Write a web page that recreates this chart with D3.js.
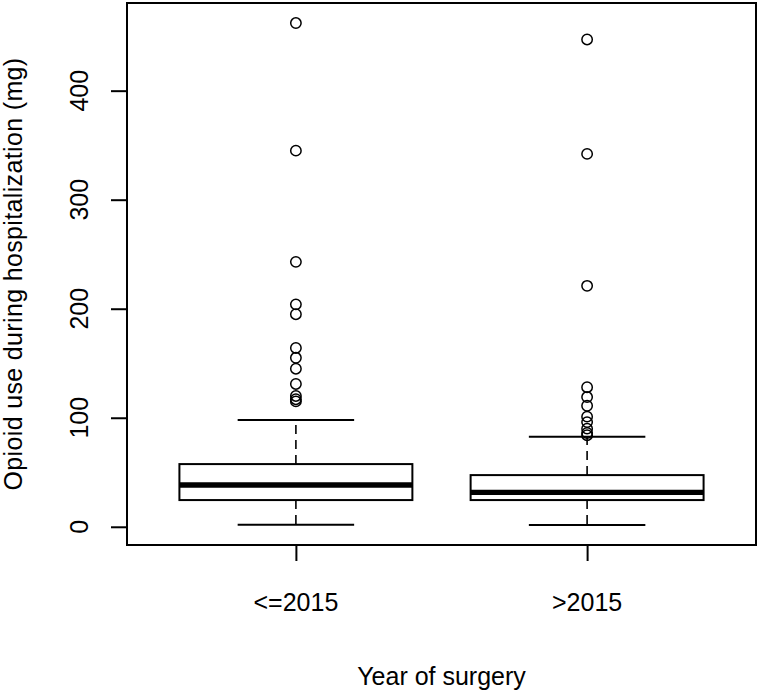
<!DOCTYPE html>
<html><head><meta charset="utf-8">
<script src="https://cdn.jsdelivr.net/npm/d3@7"></script>
<style>body{margin:0;background:#fff} text{font-family:"Liberation Sans", Arial, sans-serif; fill:#000}</style>
</head><body><svg id="c" width="760" height="694"></svg>
<script>
const categories = ["<=2015", ">2015"];
const lowerWhisker = [1.8, 1.7];
const q1 = [24.5, 24.5];
const median = [38.3, 31.5];
const q3 = [57.5, 47.4];
const upperWhisker = [98, 82.6];
const outliers = [
  [462, 345, 243, 204, 195, 164, 155, 145, 131, 120, 117, 115],
  [447, 342, 221, 128, 119, 111, 101, 96, 90, 86, 84]
];
const yTicks = [0, 100, 200, 300, 400];
const xTitle = "Year of surgery";
const yTitle = "Opioid use during hospitalization (mg)";

const svg = d3.select("#c");
const L = 127, R = 756, T = 3, B = 545;
const fs = 25;

const allVals = lowerWhisker.concat(upperWhisker, outliers.flat());
const mn = d3.min(allVals), mx = d3.max(allVals), rg = mx - mn;
const y = d3.scaleLinear().domain([mn - 0.04 * rg, mx + 0.04 * rg]).range([B, T]);
const n = categories.length;
const x = d3.scaleLinear().domain([0.5 - 0.04 * n, n + 0.5 + 0.04 * n]).range([L, R]);

const g = svg.append("g");
const bw = 0.8, sw = 0.4;
categories.forEach((c, i) => {
  const cx = x(i + 1);
  g.append("line").attr("x1", cx).attr("x2", cx).attr("y1", y(q3[i])).attr("y2", y(upperWhisker[i]))
    .attr("stroke", "#000").attr("stroke-width", 1.6).attr("stroke-dasharray", "9,6");
  g.append("line").attr("x1", cx).attr("x2", cx).attr("y1", y(q1[i])).attr("y2", y(lowerWhisker[i]))
    .attr("stroke", "#000").attr("stroke-width", 1.6).attr("stroke-dasharray", "9,6");
  [upperWhisker[i], lowerWhisker[i]].forEach(v => {
    g.append("line").attr("x1", x(i + 1 - sw / 2)).attr("x2", x(i + 1 + sw / 2))
      .attr("y1", y(v)).attr("y2", y(v)).attr("stroke", "#000").attr("stroke-width", 2);
  });
  g.append("rect").attr("x", x(i + 1 - bw / 2)).attr("width", x(i + 1 + bw / 2) - x(i + 1 - bw / 2))
    .attr("y", y(q3[i])).attr("height", y(q1[i]) - y(q3[i]))
    .attr("fill", "#fff").attr("stroke", "#000").attr("stroke-width", 2);
  g.append("line").attr("x1", x(i + 1 - bw / 2)).attr("x2", x(i + 1 + bw / 2))
    .attr("y1", y(median[i])).attr("y2", y(median[i])).attr("stroke", "#000").attr("stroke-width", 5.3);
  outliers[i].forEach(v => {
    g.append("circle").attr("cx", cx).attr("cy", y(v)).attr("r", 5.2)
      .attr("fill", "none").attr("stroke", "#000").attr("stroke-width", 1.5);
  });
});

svg.append("rect").attr("x", L).attr("y", T).attr("width", R - L).attr("height", B - T)
  .attr("fill", "none").attr("stroke", "#000").attr("stroke-width", 2);

const yAxis = d3.axisLeft(y).tickValues(yTicks).tickSize(16).tickFormat(d3.format("d"));
const ya = svg.append("g").attr("transform", `translate(${L},0)`).call(yAxis);
ya.select(".domain").remove();
ya.selectAll("line").attr("stroke", "#000").attr("stroke-width", 2);
ya.selectAll("text").remove();
yTicks.forEach(t => {
  svg.append("text").attr("transform", `translate(88,${y(t)}) rotate(-90)`)
    .attr("text-anchor", "middle").attr("font-size", fs).text(t);
});

const xAxis = d3.axisBottom(x).tickValues(categories.map((c, i) => i + 1)).tickSize(16)
  .tickFormat((d) => categories[d - 1]);
const xa = svg.append("g").attr("transform", `translate(0,${B})`).call(xAxis);
xa.select(".domain").remove();
xa.selectAll("line").attr("stroke", "#000").attr("stroke-width", 2);
xa.selectAll("text").remove();
categories.forEach((c, i) => {
  svg.append("text").attr("x", x(i + 1)).attr("y", 611).attr("text-anchor", "middle")
    .attr("font-size", fs).text(c);
});

svg.append("text").attr("x", (L + R) / 2).attr("y", 685).attr("text-anchor", "middle")
  .attr("font-size", fs).text(xTitle);
svg.append("text").attr("transform", `translate(22,${(T + B) / 2}) rotate(-90)`)
  .attr("text-anchor", "middle").attr("font-size", fs).attr("letter-spacing", 0.35).text(yTitle);
</script>
</body></html>
